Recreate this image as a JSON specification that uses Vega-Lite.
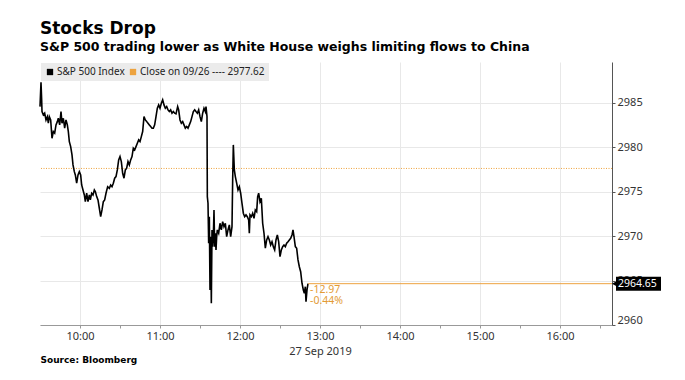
{
  "$schema": "https://vega.github.io/schema/vega-lite/v6.json",
  "autosize": "none",
  "width": 572,
  "height": 263,
  "padding": {"left": 40, "top": 62, "right": 73, "bottom": 55},
  "background": "#ffffff",
  "config": {"view": {"stroke": null}},
  "title": {
    "text": "Stocks Drop",
    "subtitle": "S&P 500 trading lower as White House weighs limiting flows to China",
    "anchor": "start",
    "frame": "group",
    "font": "DejaVu Sans",
    "fontSize": 17,
    "fontWeight": "bold",
    "color": "#000000",
    "subtitleFont": "DejaVu Sans",
    "subtitleFontSize": 12.5,
    "subtitleFontWeight": "bold",
    "subtitleColor": "#000000",
    "subtitlePadding": 3,
    "offset": 8
  },
  "datasets": {
    "spx": [
      {"t":"2019-09-27T09:30:00","v":2984.58},{"t":"2019-09-27T09:30:45","v":2987.33},{"t":"2019-09-27T09:31:15","v":2985.34},{"t":"2019-09-27T09:31:30","v":2984.02},{"t":"2019-09-27T09:32:30","v":2983.65},{"t":"2019-09-27T09:33:30","v":2983.84},{"t":"2019-09-27T09:34:30","v":2983.08},{"t":"2019-09-27T09:35:30","v":2983.45},{"t":"2019-09-27T09:36:15","v":2982.71},{"t":"2019-09-27T09:37:00","v":2983.45},
      {"t":"2019-09-27T09:38:00","v":2983.08},{"t":"2019-09-27T09:39:00","v":2981.02},{"t":"2019-09-27T09:40:00","v":2981.77},{"t":"2019-09-27T09:41:00","v":2981.59},{"t":"2019-09-27T09:42:00","v":2982.52},{"t":"2019-09-27T09:43:00","v":2982.89},{"t":"2019-09-27T09:43:45","v":2983.27},{"t":"2019-09-27T09:44:45","v":2982.52},{"t":"2019-09-27T09:45:45","v":2984.02},{"t":"2019-09-27T09:46:30","v":2982.71},
      {"t":"2019-09-27T09:47:30","v":2983.27},{"t":"2019-09-27T09:48:30","v":2982.15},{"t":"2019-09-27T09:49:30","v":2983.08},{"t":"2019-09-27T09:50:30","v":2982.52},{"t":"2019-09-27T09:51:15","v":2981.77},{"t":"2019-09-27T09:52:00","v":2980.64},{"t":"2019-09-27T09:53:00","v":2980.08},{"t":"2019-09-27T09:54:00","v":2979.14},{"t":"2019-09-27T09:54:45","v":2978.02},{"t":"2019-09-27T09:55:45","v":2977.26},
      {"t":"2019-09-27T09:56:30","v":2976.89},{"t":"2019-09-27T09:57:30","v":2975.96},{"t":"2019-09-27T09:58:30","v":2976.89},{"t":"2019-09-27T09:59:30","v":2977.26},{"t":"2019-09-27T10:00:30","v":2976.89},{"t":"2019-09-27T10:01:15","v":2975.76},{"t":"2019-09-27T10:02:15","v":2975.20},{"t":"2019-09-27T10:03:15","v":2974.64},{"t":"2019-09-27T10:04:00","v":2973.88},{"t":"2019-09-27T10:05:00","v":2974.83},
      {"t":"2019-09-27T10:06:00","v":2973.88},{"t":"2019-09-27T10:07:00","v":2974.64},{"t":"2019-09-27T10:07:45","v":2974.08},{"t":"2019-09-27T10:08:45","v":2974.83},{"t":"2019-09-27T10:09:45","v":2974.64},{"t":"2019-09-27T10:10:45","v":2975.20},{"t":"2019-09-27T10:11:30","v":2975.01},{"t":"2019-09-27T10:12:30","v":2974.45},{"t":"2019-09-27T10:13:30","v":2974.08},{"t":"2019-09-27T10:14:30","v":2973.14},
      {"t":"2019-09-27T10:15:30","v":2972.19},{"t":"2019-09-27T10:16:30","v":2972.95},{"t":"2019-09-27T10:17:30","v":2973.88},{"t":"2019-09-27T10:18:30","v":2974.08},{"t":"2019-09-27T10:19:30","v":2974.83},{"t":"2019-09-27T10:20:45","v":2975.57},{"t":"2019-09-27T10:22:00","v":2975.39},{"t":"2019-09-27T10:23:00","v":2975.76},{"t":"2019-09-27T10:24:00","v":2975.57},{"t":"2019-09-27T10:25:00","v":2975.96},
      {"t":"2019-09-27T10:26:00","v":2976.52},{"t":"2019-09-27T10:27:00","v":2976.70},{"t":"2019-09-27T10:28:00","v":2977.45},{"t":"2019-09-27T10:29:00","v":2978.58},{"t":"2019-09-27T10:30:00","v":2978.95},{"t":"2019-09-27T10:31:00","v":2978.39},{"t":"2019-09-27T10:32:00","v":2977.08},{"t":"2019-09-27T10:33:00","v":2976.52},{"t":"2019-09-27T10:34:00","v":2977.45},{"t":"2019-09-27T10:35:00","v":2977.64},
      {"t":"2019-09-27T10:36:00","v":2978.39},{"t":"2019-09-27T10:37:00","v":2978.02},{"t":"2019-09-27T10:38:00","v":2978.58},{"t":"2019-09-27T10:39:00","v":2978.95},{"t":"2019-09-27T10:40:00","v":2979.90},{"t":"2019-09-27T10:41:00","v":2979.71},{"t":"2019-09-27T10:42:00","v":2980.08},{"t":"2019-09-27T10:43:00","v":2980.46},{"t":"2019-09-27T10:44:00","v":2980.83},{"t":"2019-09-27T10:45:00","v":2980.64},
      {"t":"2019-09-27T10:46:00","v":2981.20},{"t":"2019-09-27T10:47:00","v":2981.77},{"t":"2019-09-27T10:48:00","v":2983.45},{"t":"2019-09-27T10:49:00","v":2983.08},{"t":"2019-09-27T10:50:00","v":2982.89},{"t":"2019-09-27T10:51:00","v":2982.71},{"t":"2019-09-27T10:52:00","v":2982.52},{"t":"2019-09-27T10:53:00","v":2982.33},{"t":"2019-09-27T10:54:00","v":2982.15},{"t":"2019-09-27T10:55:00","v":2982.15},
      {"t":"2019-09-27T10:56:00","v":2982.52},{"t":"2019-09-27T10:57:00","v":2983.45},{"t":"2019-09-27T10:58:00","v":2984.40},{"t":"2019-09-27T10:59:00","v":2984.77},{"t":"2019-09-27T11:00:00","v":2984.40},{"t":"2019-09-27T11:01:00","v":2984.96},{"t":"2019-09-27T11:02:00","v":2985.34},{"t":"2019-09-27T11:03:00","v":2984.77},{"t":"2019-09-27T11:04:00","v":2984.40},{"t":"2019-09-27T11:05:00","v":2984.58},
      {"t":"2019-09-27T11:06:00","v":2984.21},{"t":"2019-09-27T11:07:00","v":2984.02},{"t":"2019-09-27T11:08:00","v":2984.21},{"t":"2019-09-27T11:09:00","v":2983.84},{"t":"2019-09-27T11:10:00","v":2984.02},{"t":"2019-09-27T11:11:00","v":2983.84},{"t":"2019-09-27T11:12:00","v":2983.76},{"t":"2019-09-27T11:13:15","v":2984.58},{"t":"2019-09-27T11:14:00","v":2984.21},{"t":"2019-09-27T11:15:00","v":2983.08},
      {"t":"2019-09-27T11:16:00","v":2982.71},{"t":"2019-09-27T11:17:00","v":2982.89},{"t":"2019-09-27T11:18:00","v":2982.52},{"t":"2019-09-27T11:19:00","v":2982.15},{"t":"2019-09-27T11:20:00","v":2982.33},{"t":"2019-09-27T11:21:00","v":2982.15},{"t":"2019-09-27T11:22:00","v":2982.52},{"t":"2019-09-27T11:23:00","v":2982.89},{"t":"2019-09-27T11:24:00","v":2983.45},{"t":"2019-09-27T11:25:00","v":2984.02},
      {"t":"2019-09-27T11:26:00","v":2984.21},{"t":"2019-09-27T11:27:00","v":2984.02},{"t":"2019-09-27T11:28:00","v":2983.84},{"t":"2019-09-27T11:29:00","v":2984.21},{"t":"2019-09-27T11:30:00","v":2983.45},{"t":"2019-09-27T11:31:00","v":2982.89},{"t":"2019-09-27T11:32:00","v":2983.84},{"t":"2019-09-27T11:33:00","v":2984.40},{"t":"2019-09-27T11:34:00","v":2984.02},{"t":"2019-09-27T11:34:30","v":2984.58},
      {"t":"2019-09-27T11:35:15","v":2983.45},{"t":"2019-09-27T11:35:30","v":2974.45},{"t":"2019-09-27T11:36:00","v":2973.70},{"t":"2019-09-27T11:36:30","v":2969.20},{"t":"2019-09-27T11:37:00","v":2972.19},{"t":"2019-09-27T11:37:30","v":2963.94},{"t":"2019-09-27T11:38:00","v":2969.94},{"t":"2019-09-27T11:38:30","v":2962.44},{"t":"2019-09-27T11:39:00","v":2970.70},{"t":"2019-09-27T11:39:30","v":2968.82},
      {"t":"2019-09-27T11:40:00","v":2969.94},{"t":"2019-09-27T11:40:30","v":2972.95},{"t":"2019-09-27T11:41:00","v":2968.82},{"t":"2019-09-27T11:41:30","v":2970.33},{"t":"2019-09-27T11:42:00","v":2968.45},{"t":"2019-09-27T11:42:30","v":2969.94},{"t":"2019-09-27T11:43:00","v":2970.70},{"t":"2019-09-27T11:44:00","v":2970.33},{"t":"2019-09-27T11:45:00","v":2971.45},{"t":"2019-09-27T11:46:00","v":2970.70},
      {"t":"2019-09-27T11:47:00","v":2971.63},{"t":"2019-09-27T11:48:00","v":2971.07},{"t":"2019-09-27T11:49:00","v":2971.45},{"t":"2019-09-27T11:50:00","v":2969.94},{"t":"2019-09-27T11:51:00","v":2970.70},{"t":"2019-09-27T11:52:00","v":2971.26},{"t":"2019-09-27T11:53:00","v":2969.94},{"t":"2019-09-27T11:54:00","v":2971.07},{"t":"2019-09-27T11:54:30","v":2976.33},{"t":"2019-09-27T11:55:00","v":2980.27},
      {"t":"2019-09-27T11:55:45","v":2977.45},{"t":"2019-09-27T11:56:30","v":2976.70},{"t":"2019-09-27T11:57:30","v":2975.96},{"t":"2019-09-27T11:58:30","v":2975.20},{"t":"2019-09-27T11:59:30","v":2975.57},{"t":"2019-09-27T12:00:30","v":2974.83},{"t":"2019-09-27T12:01:30","v":2973.70},{"t":"2019-09-27T12:02:30","v":2972.58},{"t":"2019-09-27T12:03:30","v":2972.19},{"t":"2019-09-27T12:04:30","v":2972.39},
      {"t":"2019-09-27T12:05:30","v":2972.19},{"t":"2019-09-27T12:06:30","v":2971.82},{"t":"2019-09-27T12:07:00","v":2970.33},{"t":"2019-09-27T12:07:30","v":2972.39},{"t":"2019-09-27T12:08:30","v":2972.19},{"t":"2019-09-27T12:09:30","v":2972.58},{"t":"2019-09-27T12:10:30","v":2972.01},{"t":"2019-09-27T12:11:30","v":2972.95},{"t":"2019-09-27T12:12:30","v":2972.76},{"t":"2019-09-27T12:13:15","v":2974.45},
      {"t":"2019-09-27T12:14:00","v":2974.83},{"t":"2019-09-27T12:15:00","v":2973.88},{"t":"2019-09-27T12:16:00","v":2974.27},{"t":"2019-09-27T12:17:00","v":2971.45},{"t":"2019-09-27T12:18:00","v":2970.33},{"t":"2019-09-27T12:19:00","v":2968.64},{"t":"2019-09-27T12:20:00","v":2969.57},{"t":"2019-09-27T12:21:00","v":2969.94},{"t":"2019-09-27T12:22:00","v":2969.57},{"t":"2019-09-27T12:23:00","v":2969.01},
      {"t":"2019-09-27T12:24:00","v":2969.38},{"t":"2019-09-27T12:25:00","v":2968.82},{"t":"2019-09-27T12:26:00","v":2968.45},{"t":"2019-09-27T12:27:00","v":2969.57},{"t":"2019-09-27T12:28:00","v":2970.13},{"t":"2019-09-27T12:29:00","v":2969.38},{"t":"2019-09-27T12:30:00","v":2967.69},{"t":"2019-09-27T12:31:00","v":2968.45},{"t":"2019-09-27T12:32:00","v":2968.82},{"t":"2019-09-27T12:33:00","v":2969.01},
      {"t":"2019-09-27T12:34:00","v":2968.82},{"t":"2019-09-27T12:35:00","v":2969.20},{"t":"2019-09-27T12:36:00","v":2969.38},{"t":"2019-09-27T12:37:00","v":2969.57},{"t":"2019-09-27T12:38:00","v":2969.76},{"t":"2019-09-27T12:39:00","v":2970.13},{"t":"2019-09-27T12:39:45","v":2970.70},{"t":"2019-09-27T12:40:30","v":2969.94},{"t":"2019-09-27T12:41:30","v":2968.82},{"t":"2019-09-27T12:42:30","v":2968.64},
      {"t":"2019-09-27T12:43:30","v":2967.32},{"t":"2019-09-27T12:44:30","v":2966.56},{"t":"2019-09-27T12:45:30","v":2966.00},{"t":"2019-09-27T12:46:30","v":2964.70},{"t":"2019-09-27T12:47:30","v":2963.94},{"t":"2019-09-27T12:48:15","v":2963.57},{"t":"2019-09-27T12:49:00","v":2964.31},{"t":"2019-09-27T12:49:30","v":2962.62},{"t":"2019-09-27T12:50:15","v":2963.94},{"t":"2019-09-27T12:51:00","v":2964.65}
    ],
    "one": [{}]
  },
  "data": {"name": "spx"},
  "layer": [
    {
      "data": {"name": "one"},
      "mark": {"type": "rule", "strokeDash": [1, 1.5], "strokeWidth": 1},
      "encoding": {
        "y": {"datum": 2977.62, "type": "quantitative"},
        "color": {"datum": "Close on 09/26 ---- 2977.62"}
      }
    },
    {
      "mark": {"type": "line", "strokeWidth": 1.6, "interpolate": "linear"},
      "encoding": {
        "x": {
          "field": "t",
          "type": "temporal",
          "scale": {"domain": [
            {"year": 2019, "month": 9, "date": 27, "hours": 9, "minutes": 30},
            {"year": 2019, "month": 9, "date": 27, "hours": 16, "minutes": 39}
          ]},
          "axis": {
            "orient": "bottom",
            "values": [
              {"year": 2019, "month": 9, "date": 27, "hours": 10, "minutes": 0},
              {"year": 2019, "month": 9, "date": 27, "hours": 10, "minutes": 30},
              {"year": 2019, "month": 9, "date": 27, "hours": 11, "minutes": 0},
              {"year": 2019, "month": 9, "date": 27, "hours": 11, "minutes": 30},
              {"year": 2019, "month": 9, "date": 27, "hours": 12, "minutes": 0},
              {"year": 2019, "month": 9, "date": 27, "hours": 12, "minutes": 30},
              {"year": 2019, "month": 9, "date": 27, "hours": 13, "minutes": 0},
              {"year": 2019, "month": 9, "date": 27, "hours": 13, "minutes": 30},
              {"year": 2019, "month": 9, "date": 27, "hours": 14, "minutes": 0},
              {"year": 2019, "month": 9, "date": 27, "hours": 14, "minutes": 30},
              {"year": 2019, "month": 9, "date": 27, "hours": 15, "minutes": 0},
              {"year": 2019, "month": 9, "date": 27, "hours": 15, "minutes": 30},
              {"year": 2019, "month": 9, "date": 27, "hours": 16, "minutes": 0},
              {"year": 2019, "month": 9, "date": 27, "hours": 16, "minutes": 30}
            ],
            "labelExpr": "minutes(datum.value) != 0 ? '' : (hours(datum.value) == 13 ? ['13:00', '27 Sep 2019'] : timeFormat(datum.value, '%H:%M'))",
            "labelOverlap": false,
            "labelFlush": false,
            "grid": true,
            "gridColor": {"condition": {"test": "minutes(datum.value) == 0", "value": "#e8e8e8"}, "value": "transparent"},
            "domainColor": "#999999",
            "tickColor": "#999999",
            "tickSize": 3,
            "labelPadding": 2,
            "labelFont": "Noto Sans",
            "labelFontSize": 11,
            "labelColor": "#333333",
            "labelLineHeight": 15,
            "title": "Source: Bloomberg",
            "titleFont": "DejaVu Sans",
            "titleFontWeight": "bold",
            "titleFontSize": 9,
            "titleColor": "#000000",
            "titleAnchor": "start",
            "titleAlign": "left",
            "titleBaseline": "alphabetic",
            "titleX": 0,
            "titleY": 37
          }
        },
        "y": {
          "field": "v",
          "type": "quantitative",
          "scale": {"domain": [2960, 2989.6], "nice": false, "zero": false},
          "axis": {
            "orient": "right",
            "values": [2960, 2962.5, 2965, 2967.5, 2970, 2972.5, 2975, 2977.5, 2980, 2982.5, 2985, 2987.5],
            "labelExpr": "datum.value % 5 == 0 ? format(datum.value, 'd') : ''",
            "labelOverlap": false,
            "labelFlush": true,
            "grid": true,
            "gridColor": {"condition": {"test": "datum.value % 5 == 0", "value": "#e8e8e8"}, "value": "transparent"},
            "domainColor": "#555555",
            "tickColor": "#555555",
            "tickSize": 3,
            "labelPadding": 2,
            "labelFont": "Noto Sans",
            "labelFontSize": 11,
            "labelColor": "#333333",
            "title": null
          }
        },
        "color": {
          "datum": "S&P 500 Index",
          "scale": {"domain": ["S&P 500 Index", "Close on 09/26 ---- 2977.62"], "range": ["#000000", "#eda33f"]},
          "legend": {
            "title": null,
            "orient": "top-left",
            "direction": "horizontal",
            "gridAlign": "none",
            "offset": 1,
            "padding": 4,
            "fillColor": "#ebebeb",
            "symbolType": "square",
            "symbolSize": 40,
            "symbolStrokeWidth": 0,
            "labelFont": "Noto Sans",
            "labelFontSize": 10,
            "labelColor": "#222222",
            "labelOffset": 2,
            "columnPadding": 3,
            "encode": {"symbols": {"update": {"fill": {"scale": "color", "field": "value"}, "strokeWidth": {"value": 0}}}}
          }
        }
      }
    },
    {
      "data": {"name": "one"},
      "mark": {"type": "rule", "strokeWidth": 1, "color": "#eda33f"},
      "encoding": {
        "x": {"datum": {"year": 2019, "month": 9, "date": 27, "hours": 12, "minutes": 51}, "type": "temporal"},
        "x2": {"datum": {"year": 2019, "month": 9, "date": 27, "hours": 16, "minutes": 39}},
        "y": {"datum": 2964.65, "type": "quantitative"}
      }
    },
    {
      "data": {"name": "one"},
      "mark": {"type": "text", "text": ["-12.97", "-0.44%"], "align": "left", "baseline": "top", "dx": 2, "dy": 1, "lineHeight": 11.5, "font": "Noto Sans", "fontSize": 10.5, "color": "#e39b35"},
      "encoding": {
        "x": {"datum": {"year": 2019, "month": 9, "date": 27, "hours": 12, "minutes": 51}, "type": "temporal"},
        "y": {"datum": 2964.65, "type": "quantitative"}
      }
    },
    {
      "data": {"name": "one"},
      "mark": {"type": "rect", "color": "#000000", "xOffset": 4, "x2Offset": 49, "yOffset": -7, "y2Offset": 7},
      "encoding": {
        "x": {"datum": {"year": 2019, "month": 9, "date": 27, "hours": 16, "minutes": 39}, "type": "temporal"},
        "x2": {"datum": {"year": 2019, "month": 9, "date": 27, "hours": 16, "minutes": 39}},
        "y": {"datum": 2964.65, "type": "quantitative"},
        "y2": {"datum": 2964.65}
      }
    },
    {
      "data": {"name": "one"},
      "mark": {"type": "point", "shape": "triangle-left", "filled": true, "color": "#000000", "opacity": 1, "size": 45, "xOffset": 3},
      "encoding": {
        "x": {"datum": {"year": 2019, "month": 9, "date": 27, "hours": 16, "minutes": 39}, "type": "temporal"},
        "y": {"datum": 2964.65, "type": "quantitative"}
      }
    },
    {
      "data": {"name": "one"},
      "mark": {"type": "text", "text": "2964.65", "align": "left", "baseline": "middle", "dx": 6, "font": "Noto Sans", "fontSize": 10.5, "color": "#ffffff"},
      "encoding": {
        "x": {"datum": {"year": 2019, "month": 9, "date": 27, "hours": 16, "minutes": 39}, "type": "temporal"},
        "y": {"datum": 2964.65, "type": "quantitative"}
      }
    }
  ]
}
